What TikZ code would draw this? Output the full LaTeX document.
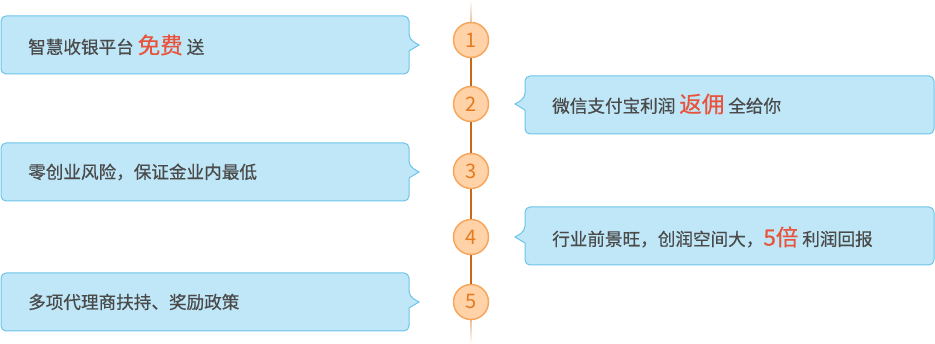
\documentclass[tikz,border=0pt]{standalone}
\usepackage{fontspec}
\setmainfont{Noto Sans CJK SC}
\newfontfamily\cjk[FakeBold=0.5]{Noto Sans CJK SC}
\usetikzlibrary{calc}
\definecolor{bubfill}{HTML}{BFE7F7}
\definecolor{bubdraw}{HTML}{6DC3EA}
\definecolor{txtgray}{HTML}{4A4A4A}
\definecolor{hired}{HTML}{E9533B}
\definecolor{circfill}{HTML}{FFD2A8}
\definecolor{circdraw}{HTML}{F8A65C}
\definecolor{numcol}{HTML}{E57A1E}
\definecolor{linecol}{HTML}{C9671A}
\newcommand\hl[1]{{\fontsize{22.5}{22.5}\selectfont\color{hired}#1}}
\newcommand\leftbub[3]{% y0 y1 py
  \draw[bubstyle,rounded corners=5pt] (1,#1) -- (409,#1) -- (409,#3-6) [sharp corners]-- (419,#3) -- (409,#3+6) [rounded corners=5pt]-- (409,#2) -- (1,#2) -- cycle;}
\newcommand\rightbub[3]{%
  \draw[bubstyle,rounded corners=5pt] (934,#1) -- (525,#1) -- (525,#3-6) [sharp corners]-- (515,#3) -- (525,#3+6) [rounded corners=5pt]-- (525,#2) -- (934,#2) -- cycle;}
\tikzset{
  bubstyle/.style={fill=bubfill,draw=bubdraw,line width=1pt},
  txt/.style={anchor=west,inner sep=0pt,text=txtgray,font=\cjk\fontsize{17.6}{17.6}\selectfont},
  num/.style={circle,minimum size=35pt,inner sep=0pt,fill=circfill,draw=circdraw,line width=1.5pt,text=numcol,font=\fontsize{20}{20}\selectfont},
  conn/.style={draw=linecol,line width=1.5pt}
}
\begin{document}
\begin{tikzpicture}[x=1pt,y=-1pt]
\useasboundingbox (0,0) rectangle (935,344);
% faded line ends
\shade[top color=white,bottom color=linecol!45] (470.2,0) rectangle (471.8,24);
\shade[top color=linecol!45,bottom color=white] (470.2,319) rectangle (471.8,344);
% bubbles
\leftbub{16}{74}{45}
\leftbub{143}{201}{172}
\leftbub{273}{331}{302}
\rightbub{76}{134}{104}
\rightbub{207}{265}{237}
% texts
\node[txt] (t1) at (28,45) {智慧收银平台 \hl{免费} 送};
\node[txt] (t3) at (28,172) {零创业风险，保证金业内最低};
\node[txt] (t5) at (28,302) {多项代理商扶持、奖励政策};
\node[txt] (t2) at (552,104) {微信支付宝利润 \hl{返佣} 全给你};
\node[txt] (t4) at (552,237) {行业前景旺，创润空间大，\hl{5倍} 利润回报};
% circles
\node[num] (c1) at (471,40) {1};
\node[num] (c2) at (471,104) {2};
\node[num] (c3) at (471,171) {3};
\node[num] (c4) at (471,237) {4};
\node[num] (c5) at (471,302) {5};
\draw[conn] (c1) -- (c2);
\draw[conn] (c2) -- (c3);
\draw[conn] (c3) -- (c4);
\draw[conn] (c4) -- (c5);
\end{tikzpicture}
\end{document}
